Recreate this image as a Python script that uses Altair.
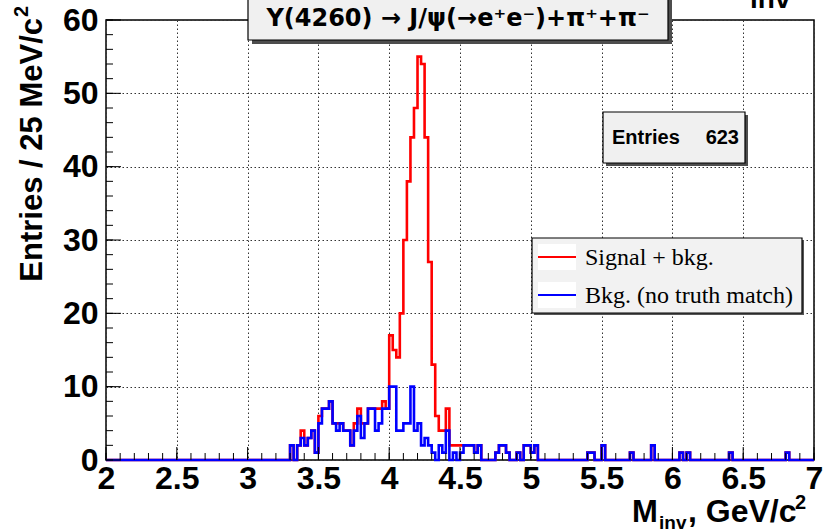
import altair as alt
import numpy as np
import pandas as pd

# ---------------- data ----------------
BIN_W = 0.025           # 25 MeV bins
X_MIN, X_MAX = 2.0, 7.0
FIRST_BIN = 3.300       # first bin of the dense region (bin index 52)

# counts per bin from 3.300 GeV to 5.075 GeV
signal_bkg = [2, 0, 2, 4, 2, 3, 4, 1, 6, 7,
              7, 8, 5, 5, 5, 4, 4, 2, 5, 7,
              5, 5, 7, 7, 7, 7, 8, 7, 17, 15,
              14, 20, 30, 38, 44, 48, 55, 54, 44, 27,
              13, 6, 4, 4, 7, 2, 2, 2, 2, 2,
              2, 2, 1, 2, 0, 0, 0, 0, 1, 2,
              2, 1, 0, 0, 1, 0, 2, 2, 1, 2]
bkg_only = [2, 0, 2, 3, 2, 3, 4, 1, 5, 7,
            7, 8, 5, 4, 5, 4, 4, 2, 4, 6,
            3, 5, 7, 7, 4, 5, 7, 7, 10, 10,
            4, 4, 5, 5, 10, 4, 5, 2, 3, 2,
            1, 0, 2, 1, 4, 0, 1, 0, 1, 2,
            2, 2, 1, 2, 0, 0, 0, 0, 1, 2,
            2, 1, 0, 0, 1, 0, 2, 2, 1, 2]
# sparse tail (bin low edge in GeV, entries) - background only
tail_mass = [5.400, 5.425, 5.500, 5.700, 5.850, 6.050, 6.100, 6.400, 6.800]
tail_count = [1, 1, 2, 1, 2, 1, 1, 1, 1]

x_tick_labels = [2, 2.5, 3, 3.5, 4, 4.5, 5, 5.5, 6, 6.5, 7]
y_tick_labels = [0, 10, 20, 30, 40, 50, 60]
n_entries = 623

# ---------------- build histogram tables ----------------
NB = int(round((X_MAX - X_MIN) / BIN_W))
edges = [round(X_MIN + BIN_W * i, 4) for i in range(NB + 1)]


def full_hist(dense, add_tail):
    h = np.zeros(NB)
    i0 = int(round((FIRST_BIN - X_MIN) / BIN_W))
    h[i0:i0 + len(dense)] = dense
    if add_tail:
        for m, c in zip(tail_mass, tail_count):
            h[int(round((m - X_MIN) / BIN_W))] = c
    return h


h_red = full_hist(signal_bkg, True)
h_blue = full_hist(bkg_only, True)


def step_df(h):
    vals = list(h) + [h[-1]]
    return pd.DataFrame({"mass": edges, "count": vals})


W, H = 708, 440
xs = alt.Scale(domain=[X_MIN, X_MAX], nice=False, zero=False)
ys = alt.Scale(domain=[0, 60], nice=False)

FONT = "Liberation Sans"

x_axis = alt.Axis(values=x_tick_labels, labelExpr="format(datum.value, '~g')",
                  grid=True, gridDash=[1.5, 2.5], gridColor="#333333", gridWidth=1,
                  ticks=False, domain=False, labelFont=FONT, labelFontWeight="bold",
                  labelFontSize=32, labelColor="black", labelPadding=3,
                  labelOverlap=False, labelFlush=False, title=None)
y_axis = alt.Axis(values=y_tick_labels, grid=True, gridDash=[1.5, 2.5],
                  gridColor="#333333", gridWidth=1, ticks=False, domain=False,
                  labelFont=FONT, labelFontWeight="bold", labelFontSize=32,
                  labelColor="black", labelPadding=8, labelOverlap=False,
                  labelFlush=False, title=None)

red = alt.Chart(step_df(h_red)).mark_line(
    interpolate="step-after", color="#ff0000", strokeWidth=2.6
).encode(x=alt.X("mass:Q", scale=xs, axis=x_axis),
         y=alt.Y("count:Q", scale=ys, axis=y_axis))

blue = alt.Chart(step_df(h_blue)).mark_line(
    interpolate="step-after", color="#0000ff", strokeWidth=2.6
).encode(x=alt.X("mass:Q", scale=xs), y=alt.Y("count:Q", scale=ys))

# ---------------- ticks (ROOT style, pointing inwards) ----------------
x_minor = pd.DataFrame({"m": [round(2.0 + 0.1 * k, 2) for k in range(51)]})
x_major = pd.DataFrame({"m": x_tick_labels})
y_minor = pd.DataFrame({"v": list(range(0, 61, 2))})
y_major = pd.DataFrame({"v": y_tick_labels})

xt_minor = alt.Chart(x_minor).mark_rule(color="black", strokeWidth=1).encode(
    x=alt.X("m:Q", scale=xs), y=alt.value(H - 7), y2=alt.value(H))
xt_major = alt.Chart(x_major).mark_rule(color="black", strokeWidth=1).encode(
    x=alt.X("m:Q", scale=xs), y=alt.value(H - 13), y2=alt.value(H))
yt_minor = alt.Chart(y_minor).mark_rule(color="black", strokeWidth=1).encode(
    y=alt.Y("v:Q", scale=ys), x=alt.value(0), x2=alt.value(7))
yt_major = alt.Chart(y_major).mark_rule(color="black", strokeWidth=1).encode(
    y=alt.Y("v:Q", scale=ys), x=alt.value(0), x2=alt.value(15))

one = pd.DataFrame({"a": [0]})


def box(x1, x2, y1, y2, fill, stroke=None, sw=0):
    kw = dict(fill=fill)
    if stroke:
        kw.update(stroke=stroke, strokeWidth=sw)
    return alt.Chart(one).mark_rect(**kw).encode(
        x=alt.value(x1), x2=alt.value(x2), y=alt.value(y1), y2=alt.value(y2))


def txt(s, x, y, size, align="left", baseline="alphabetic", font=FONT,
        weight="bold", angle=0, color="black"):
    kw = dict(align=align, baseline=baseline, font=font, fontSize=size,
              fontWeight=weight, color=color)
    if angle:
        kw["angle"] = angle
    return alt.Chart(one).mark_text(**kw).encode(
        x=alt.value(x), y=alt.value(y), text=alt.value(s))


def hline(x1, x2, y, color, sw):
    return alt.Chart(one).mark_rule(color=color, strokeWidth=sw).encode(
        x=alt.value(x1), x2=alt.value(x2), y=alt.value(y))


# title box
title_layers = [
    box(146, 566, -21, 24, "#4d4d4d"),
    box(142, 562, -25, 20, "#f0f0f0", "black", 1.2),
    txt("Y(4260)  \u2192 J/\u03c8(\u2192e\u207ae\u207b)+\u03c0\u207a+\u03c0\u207b",
        352, -1, 24, align="center", baseline="middle", font="DejaVu Sans"),
    txt("inv", 644, -12, 28),
]

# stats box
stats_layers = [
    box(500, 642, 95, 146, "#4d4d4d"),
    box(497, 639, 92, 143, "#f0f0f0", "black", 1.2),
    txt("Entries", 506, 118, 20, baseline="middle"),
    txt(str(n_entries), 633, 118, 20, align="right", baseline="middle"),
]

# legend
legend_layers = [
    box(428, 698, 220, 295, "#555555"),
    box(426, 696, 218, 293, "#f2f2f2", "black", 1.2),
    box(432, 470, 224, 250, "white"),
    box(432, 470, 262, 288, "white"),
    hline(432, 470, 237, "#ff0000", 2),
    hline(432, 470, 275, "#0000ff", 2),
    txt("Signal + bkg.", 479, 238, 24, baseline="middle",
        font="Liberation Serif", weight="normal"),
    txt("Bkg. (no truth match)", 479, 276, 24, baseline="middle",
        font="Liberation Serif", weight="normal"),
]

# axis titles
axis_title_layers = [
    txt("Entries / 25 MeV/c", -64, -2, 31, align="right", angle=270),
    txt("2", -78, -3, 20, align="left", angle=270),
    txt("M", 526, 502, 31, align="left"),
    txt("inv", 553, 509, 19, align="left"),
    txt(", GeV/c", 582, 502, 32, align="left"),
    txt("2", 689, 489, 20, align="left"),
]

chart = alt.layer(
    red, blue, xt_minor, xt_major, yt_minor, yt_major,
    *title_layers, *stats_layers, *legend_layers, *axis_title_layers
).properties(
    width=W, height=H,
    autosize=alt.AutoSizeParams(type="none"),
    padding={"left": 106, "top": 20, "right": 10, "bottom": 72},
    background="white",
).configure_view(stroke="black", strokeWidth=1.5)

chart.save("out.html", embed_options={"renderer": "svg", "actions": False})
